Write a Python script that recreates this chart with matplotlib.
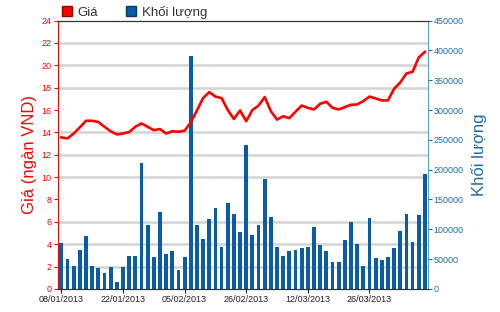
import numpy as np
import matplotlib
matplotlib.use("Agg")
from matplotlib import pyplot as plt
from matplotlib.patches import Patch

plt.rcParams['font.family'] = ['Liberation Sans', 'DejaVu Sans']

# gia dong cua (ngan VND), 60 phien tu 08/01/2013
price = [13.55, 13.46, 13.9, 14.45, 15.04, 15.04, 14.93, 14.5, 14.1, 13.82,
         13.9, 14.03, 14.5, 14.8, 14.5, 14.2, 14.3, 13.9, 14.1, 14.06,
         14.15, 14.9, 15.96, 17.07, 17.6, 17.2, 17.07, 16.0, 15.2, 15.96,
         15.0, 16.0, 16.4, 17.16, 15.9, 15.14, 15.45, 15.27, 15.85, 16.4,
         16.2, 16.05, 16.56, 16.74, 16.2, 16.05, 16.26, 16.47, 16.5, 16.8,
         17.2, 17.04, 16.86, 16.86, 17.9, 18.46, 19.27, 19.42, 20.7, 21.2]

# khoi luong
volume = [77000, 50000, 39000, 66000, 88000, 39000, 35000, 26000, 36000, 11000,
          36000, 55000, 55000, 211000, 108000, 53000, 129000, 58000, 64000, 31000,
          53000, 391000, 108000, 83000, 118000, 135000, 71000, 144000, 126000, 95000,
          241000, 91000, 107000, 184000, 121000, 71000, 56000, 63000, 65000, 68000,
          70000, 104000, 73000, 63000, 45000, 45000, 82000, 112000, 75000, 38000,
          119000, 52000, 49000, 54000, 69000, 97000, 126000, 79000, 124000, 193000]

tick_labels = ["08/01/2013", "22/01/2013", "05/02/2013",
               "26/02/2013", "12/03/2013", "26/03/2013"]

red = '#ff0000'
blue = '#1f6aa5'
barc = '#0a5ca6'

x = np.arange(len(price))
pmax, vmax = 24, 450000

fig = plt.figure(figsize=(5, 3.12), dpi=100)
ax2 = fig.add_axes([0.116, 0.074, 0.739, 0.86])
ax = ax2.twinx()

# volume bars (right axis)
ax2.bar(x, volume, width=0.62, color=barc, zorder=2)
ax2.set_ylim(0, vmax)
ax2.set_yticks(np.arange(0, vmax + 1, 50000))
# grid follows the price ticks, drawn under the bars
ax2.set_yticks(np.arange(0, pmax + 1, 2) * vmax / pmax, minor=True)
ax2.grid(axis='y', which='minor', color='#d4d4d4', linewidth=1.8, zorder=0)
ax2.set_axisbelow(True)
ax2.yaxis.tick_right()
ax2.yaxis.set_label_position('right')
ax2.tick_params(axis='y', which='major', colors=blue, labelsize=6.5, length=3, width=0.8, pad=1.5)
ax2.tick_params(axis='y', which='minor', length=0)
ax2.set_ylabel('Khối lượng', color=blue, fontsize=12, labelpad=5)

# price line (left axis)
ax.plot(x, price, color=red, linewidth=1.9, zorder=3)
ax.set_ylim(0, pmax)
ax.set_yticks(np.arange(0, pmax + 1, 2))
ax.yaxis.tick_left()
ax.yaxis.set_label_position('left')
ax.tick_params(axis='y', colors=red, labelsize=6.5, length=3, width=0.8, pad=1.5)
ax.set_ylabel('Giá (ngàn VND)', color=red, fontsize=12, labelpad=3)

ax.set_zorder(ax2.get_zorder() + 1)
ax.patch.set_visible(False)

ax.set_xlim(-0.55, 59.42)
ax2.set_xticks(np.arange(0, len(price), 10))
ax2.set_xticklabels(tick_labels)
ax2.tick_params(axis='x', labelsize=6.5, length=3, width=0.8, pad=1.5, colors='#222222')

for a in (ax, ax2):
    a.spines['top'].set_color('#333333')
    a.spines['bottom'].set_color('#333333')
ax.spines['left'].set_color(red)
ax.spines['right'].set_visible(False)
ax2.spines['left'].set_visible(False)
ax2.spines['right'].set_color('#5a9fd0')

handles = [Patch(facecolor=red, edgecolor='#990000'),
           Patch(facecolor=barc, edgecolor='#053a6a')]
fig.legend(handles, ['Giá', 'Khối lượng'], loc='upper left', ncol=2,
           bbox_to_anchor=(0.1, 1.02), frameon=False, fontsize=9.5,
           handlelength=0.8, handleheight=0.8, handletextpad=0.4,
           columnspacing=2.1, labelcolor='#333333')

fig.savefig('out.png', dpi=100)
